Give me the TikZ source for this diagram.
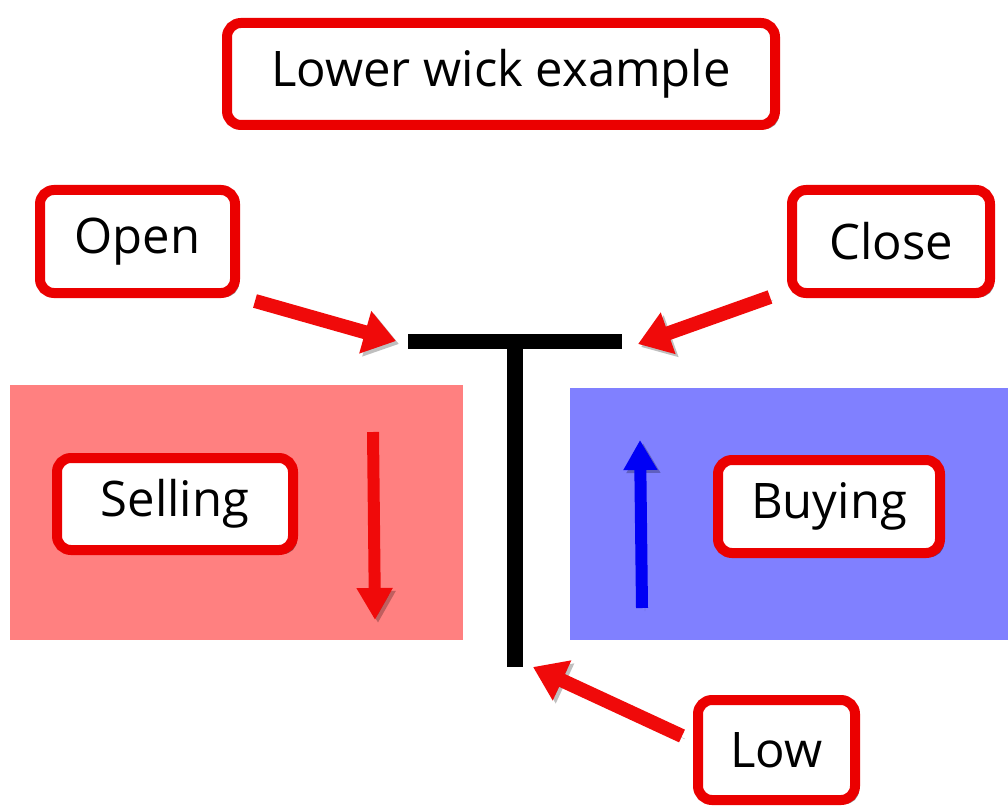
\documentclass[tikz,border=0pt]{standalone}
\usepackage{fontspec}
\setmainfont{Open Sans}
\usetikzlibrary{arrows.meta,shadows}
\definecolor{boxred}{RGB}{235,0,0}
\definecolor{pinkbg}{RGB}{255,128,128}
\definecolor{bluebg}{RGB}{128,128,255}
\definecolor{arrred}{RGB}{240,10,10}
\definecolor{arrblue}{RGB}{0,0,245}
\tikzset{
  label box/.style={draw=boxred, line width=10pt, fill=white, rounded corners=14pt,
    inner sep=0pt, font=\fontsize{49}{58}\selectfont,
    drop shadow={shadow xshift=4pt, shadow yshift=-4pt, opacity=0.45, fill=black}},
  pointer/.style={line width=14pt, draw=arrred, -{Triangle[length=32pt,width=42pt]},
    preaction={draw=black, opacity=0.25, transform canvas={shift={(3pt,-3pt)}}}},
  wick/.style={line width=15pt, draw=black},
}
\begin{document}
\begin{tikzpicture}[x=1pt,y=-1pt]
\useasboundingbox (0,0) rectangle (1008,810);
\fill[white] (0,0) rectangle (1008,810);
% coloured regions
\fill[pinkbg] (10,385) rectangle (463,640);
\fill[bluebg] (570,388) rectangle (1008,640);
% candle (T shape)
\coordinate (tl) at (408,341);
\coordinate (tr) at (622,341);
\coordinate (top) at (515,334);
\coordinate (bot) at (515,667);
\draw[wick] (tl) -- (tr);
\draw[wick, line width=16pt] (top) -- (bot);
% label boxes
\node[label box, minimum width=548pt, minimum height=102pt] (title) at (501,74) {Lower wick example};
\node[label box, minimum width=195pt, minimum height=103pt] (open) at (137.5,241.5) {Open};
\node[label box, minimum width=198pt, minimum height=103pt] (close) at (891,241.5) {Close};
\node[label box, minimum width=236pt, minimum height=92pt] (selling) at (175,504) {Selling};
\node[label box, minimum width=222pt, minimum height=93pt] (buying) at (829,506.5) {Buying};
\node[label box, minimum width=157pt, minimum height=100pt] (low) at (776.5,750) {Low};
% pointer ends
\coordinate (openTail) at (255,301);
\coordinate (openHead) at (396,341);
\coordinate (closeTail) at (770,297);
\coordinate (closeHead) at (638,344);
\coordinate (lowTail) at (682,736);
\coordinate (lowHead) at (533,667);
\coordinate (sellTop) at (373,432);
\coordinate (sellBot) at (375,620);
\coordinate (buyBot) at (642,608);
\coordinate (buyTop) at (640,440);
\draw[pointer] (openTail) -- (openHead);
\draw[pointer] (closeTail) -- (closeHead);
\draw[pointer] (lowTail) -- (lowHead);
\draw[pointer, line width=12pt, -{Triangle[length=32pt,width=34pt]}] (sellTop) -- (sellBot);
\draw[pointer, draw=arrblue, line width=12pt, -{Triangle[length=30pt,width=32pt]}] (buyBot) -- (buyTop);
\end{tikzpicture}
\end{document}
